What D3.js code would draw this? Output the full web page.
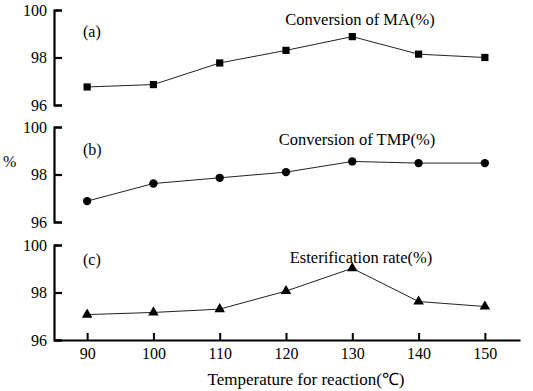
<!DOCTYPE html>
<html>
<head>
<meta charset="utf-8">
<script src="https://cdn.jsdelivr.net/npm/d3@7"></script>
<style>
  body { margin: 0; background: #fff; }
  text { font-family: "Liberation Serif", "Times New Roman", serif; fill: #000; }
</style>
</head>
<body>
<div id="chart"></div>
<script>
// temperatures (x) and the three measured series
const temps = [90, 100, 110, 120, 130, 140, 150];
const convMA = [96.76, 96.86, 97.77, 98.3, 98.88, 98.14, 98.0];
const convTMP = [96.88, 97.62, 97.86, 98.1, 98.55, 98.48, 98.48];
const esterRate = [97.07, 97.16, 97.3, 98.06, 99.02, 97.62, 97.41];
const yTicks = [96, 98, 100];
const panelLabels = ['(a)', '(b)', '(c)'];
const panelTitles = ['Conversion of MA(%)', 'Conversion of TMP(%)', 'Esterification rate(%)'];

const width = 533;
const height = 391;
const left = 54;

const svg = d3.select('#chart').append('svg')
  .attr('width', width)
  .attr('height', height);

const x = d3.scaleLinear().domain([85, 155.3]).range([left, 520]);

const panels = [
  { data: convMA, top: 10, bottom: 105, marker: d3.symbolSquare, size: 52, labelY: 37, titleX: 360, titleY: 25 },
  { data: convTMP, top: 127, bottom: 222, marker: d3.symbolCircle, size: 55, labelY: 155, titleX: 357, titleY: 145 },
  { data: esterRate, top: 245, bottom: 340, marker: d3.symbolTriangle, size: 48, labelY: 265, titleX: 361, titleY: 263 }
];

panels.forEach((p, i) => {
  const y = d3.scaleLinear().domain([96, 100]).range([p.bottom, p.top]);
  const g = svg.append('g');

  // y axis, ticks point inward
  const yAxis = g.append('g')
    .attr('transform', `translate(${left},0)`)
    .call(d3.axisLeft(y).tickValues(yTicks).tickFormat(d3.format('d'))
      .tickSize(-8).tickPadding(7).tickSizeOuter(-8));
  yAxis.select('.domain').attr('stroke-width', 2.2);
  yAxis.selectAll('.tick line').attr('stroke-width', 2.2);
  yAxis.selectAll('text').attr('font-size', 16).attr('font-family', '"Liberation Serif", serif');

  // line
  const line = d3.line()
    .x((d, j) => x(temps[j]))
    .y(d => y(d));
  g.append('path')
    .datum(p.data)
    .attr('d', line)
    .attr('fill', 'none')
    .attr('stroke', '#222')
    .attr('stroke-width', 1);

  // markers
  g.selectAll('.pt')
    .data(p.data)
    .enter()
    .append('path')
    .attr('class', 'pt')
    .attr('transform', (d, j) => `translate(${x(temps[j])},${y(d)})`)
    .attr('d', d3.symbol().type(p.marker).size(p.size))
    .attr('fill', '#000');

  g.append('text')
    .attr('x', 83)
    .attr('y', p.labelY)
    .attr('font-size', 16)
    .text(panelLabels[i]);

  g.append('text')
    .attr('x', p.titleX)
    .attr('y', p.titleY)
    .attr('text-anchor', 'middle')
    .attr('font-size', 16.5)
    .text(panelTitles[i]);

  // x axis on the bottom panel only
  if (i === 2) {
    const xAxis = g.append('g')
      .attr('transform', `translate(0,${p.bottom})`)
      .call(d3.axisBottom(x).tickValues(temps).tickSize(-7).tickPadding(8).tickSizeOuter(0));
    xAxis.select('.domain').attr('stroke-width', 2.2);
    xAxis.selectAll('.tick line').attr('stroke-width', 2);
    xAxis.selectAll('text').attr('font-size', 16).attr('font-family', '"Liberation Serif", serif');
  }
});

svg.append('text')
  .attr('x', 3)
  .attr('y', 167)
  .attr('font-size', 16)
  .text('%');

svg.append('text')
  .attr('x', 306)
  .attr('y', 385)
  .attr('text-anchor', 'middle')
  .attr('font-size', 17)
  .text('Temperature for reaction(℃)');
</script>
</body>
</html>
